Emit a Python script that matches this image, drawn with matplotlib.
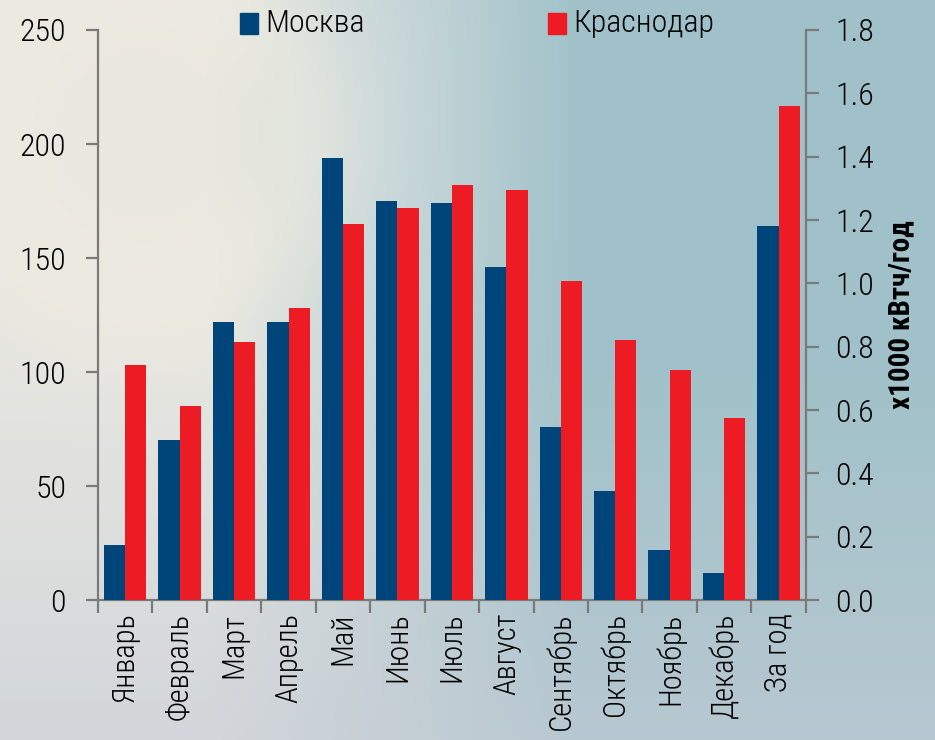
import numpy as np
import matplotlib
matplotlib.use("Agg")
import matplotlib.pyplot as plt
from matplotlib.patches import Rectangle
from matplotlib import font_manager

# ---- data -------------------------------------------------------------
months = ["Январь", "Февраль", "Март", "Апрель", "Май", "Июнь", "Июль",
          "Август", "Сентябрь", "Октябрь", "Ноябрь", "Декабрь"]
total_label = "За год"
moscow_monthly = [24, 70, 122, 122, 194, 175, 174, 146, 76, 48, 22, 12]
krasnodar_monthly = [103, 85, 113, 128, 165, 172, 182, 180, 140, 114, 101, 80]
moscow_year = 1.18       # x1000 кВтч/год
krasnodar_year = 1.56    # x1000 кВтч/год
series_names = ["Москва", "Краснодар"]
left_ticks = [0, 50, 100, 150, 200, 250]
right_ticks = [0.0, 0.2, 0.4, 0.6, 0.8, 1.0, 1.2, 1.4, 1.6, 1.8]
right_label = "x1000 кВтч/год"

BLUE = "#00457a"
RED = "#ed1c24"
SPINE = "#7a7a7a"

# ---- font -------------------------------------------------------------
available = {f.name for f in font_manager.fontManager.ttflist}
families = [f for f in ["Roboto Condensed", "Liberation Sans Narrow",
                        "DejaVu Sans Condensed", "Roboto", "DejaVu Sans"]
            if f in available]
plt.rcParams["font.family"] = families
plt.rcParams["font.weight"] = "light"

fig = plt.figure(figsize=(9.35, 7.4), dpi=100)

# ---- soft sky backdrop ------------------------------------------------
H, W = 370, 468
yy = np.linspace(0, 1, H)[:, None] * np.ones((1, W))
xx = np.ones((H, 1)) * np.linspace(0, 1, W)[None, :]
base_left = np.array([0.90, 0.90, 0.88])
base_right = np.array([0.63, 0.76, 0.79])
base_bottom = np.array([0.78, 0.80, 0.84])
t = np.clip((xx - 0.22) / 0.40, 0, 1)[..., None]
img = base_left * (1 - t) + base_right * t
b = np.clip((yy - 0.50) / 0.50, 0, 1)[..., None] * 0.6
img = img * (1 - b) + base_bottom * b
# pale halo top-left
r = np.sqrt(((xx - 0.15) * 1.26) ** 2 + (yy - 0.18) ** 2)
halo = np.exp(-((r - 0.22) / 0.09) ** 2) * 0.35 + np.exp(-(r / 0.18) ** 2) * 0.25
img = img * (1 - halo[..., None]) + np.array([0.97, 0.95, 0.88]) * halo[..., None]
# lighter band across the upper middle
band = np.exp(-((xx - 0.42) / 0.10) ** 2) * np.exp(-((yy - 0.15) / 0.3) ** 2) * 0.2
img = img * (1 - band[..., None]) + np.array([0.88, 0.90, 0.92]) * band[..., None]
bg = fig.add_axes([0, 0, 1, 1], zorder=-10)
bg.imshow(np.clip(img, 0, 1), aspect="auto", extent=[0, 1, 0, 1], interpolation="bicubic")
bg.axis("off")

# ---- bars -------------------------------------------------------------
ax = fig.add_axes([0.1048, 0.189, 0.757, 0.7705])
ax.patch.set_alpha(0)
ax2 = ax.twinx()

n = len(months) + 1
x = np.arange(n)
w = 0.39
ax.bar(x[:-1] - w / 2, moscow_monthly, w, color=BLUE, zorder=3)
ax.bar(x[:-1] + w / 2, krasnodar_monthly, w, color=RED, zorder=3)
ax2.bar([x[-1] - w / 2], [moscow_year], w, color=BLUE, zorder=3)
ax2.bar([x[-1] + w / 2], [krasnodar_year], w, color=RED, zorder=3)

ax.set_xlim(-0.5, n - 0.5)
ax.set_ylim(0, 250)
ax2.set_ylim(0, 1.8)

ax.set_yticks(left_ticks)
ax.set_yticklabels([str(v) for v in left_ticks])
ax2.set_yticks(right_ticks)
ax2.set_yticklabels([f"{v:.1f}" for v in right_ticks])

# category ticks sit between the groups, labels at the group centres
ax.set_xticks(np.arange(n + 1) - 0.5)
ax.set_xticklabels([])
ax.set_xticks(x, minor=True)
ax.set_xticklabels(months + [total_label], minor=True, rotation=90,
                   fontsize=22, va="top", ha="center")
ax.tick_params(axis="x", which="minor", length=0, pad=9)
ax.tick_params(axis="x", which="major", length=9, width=1.6, color=SPINE,
               direction="out")
ax.tick_params(axis="y", length=9, width=1.6, color=SPINE, labelsize=23, pad=14)
ax2.tick_params(axis="y", length=9, width=1.6, color=SPINE, labelsize=23, pad=12)

for a in (ax, ax2):
    a.spines["top"].set_visible(False)
    for s in ("left", "right", "bottom"):
        a.spines[s].set_color(SPINE)
        a.spines[s].set_linewidth(1.6)
ax.spines["right"].set_visible(False)
ax2.spines["left"].set_visible(False)
ax2.spines["bottom"].set_visible(False)

ax2.set_ylabel(right_label, fontsize=21, fontweight="bold", labelpad=10)

# ---- legend -----------------------------------------------------------
FW, FH = 935.0, 740.0
for (sq_x, tx_x), name, col in zip([(240, 265), (548, 573)], series_names, [BLUE, RED]):
    fig.patches.append(Rectangle((sq_x / FW, 1 - 34 / FH), 18 / FW, 21 / FH,
                                 transform=fig.transFigure, color=col, zorder=5))
    fig.text(tx_x / FW, 1 - 23 / FH, name, fontsize=23, va="center", ha="left")

fig.savefig("out.png", dpi=100)
